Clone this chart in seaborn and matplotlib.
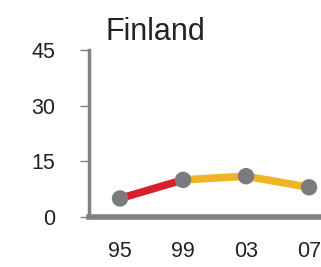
import pandas as pd
import matplotlib
matplotlib.use("Agg")
import matplotlib.pyplot as plt
import seaborn as sns

years = [1995, 1999, 2003, 2007]
values = [5, 10, 11, 8]
tick_labels = ["95", "99", "03", "07"]

# build segments: red 95-99, gold 99-07
rows = []
for i in range(len(years) - 1):
    seg = "early" if i == 0 else "late"
    rows.append({"year": years[i], "value": values[i], "seg": seg, "part": i})
    rows.append({"year": years[i + 1], "value": values[i + 1], "seg": seg, "part": i})
df_lines = pd.DataFrame(rows)
df_pts = pd.DataFrame({"year": years, "value": values})

sns.set_style("white")
plt.rcParams['font.family'] = ['Liberation Sans', 'DejaVu Sans']

fig = plt.figure(figsize=(3.21, 2.67), dpi=100)
ax = fig.add_axes([89 / 321, 50 / 267, 1 - 89 / 321, 167 / 267])

sns.lineplot(data=df_lines, x="year", y="value", hue="seg", units="part", estimator=None,
             palette={"early": "#d8202c", "late": "#f0b527"}, linewidth=5.5,
             legend=False, ax=ax, solid_capstyle="butt")
sns.scatterplot(data=df_pts, x="year", y="value", color="#7b7b7d", s=140,
                edgecolor="none", ax=ax, zorder=5, legend=False)

ax.set_xlim(1993.03, 2007.76)
ax.set_ylim(0, 45)
ax.set_yticks([0, 15, 30, 45])
ax.set_yticklabels(["0", "15", "30", "45"])
ax.set_xticks(years)
ax.set_xticklabels(tick_labels)
ax.set_xlabel("")
ax.set_ylabel("")

for s in ["top", "right"]:
    ax.spines[s].set_visible(False)
ax.spines["left"].set_color("#808080")
ax.spines["left"].set_linewidth(2.5)
ax.spines["bottom"].set_color("#808080")
ax.spines["bottom"].set_linewidth(4)

ax.tick_params(axis="y", length=6.5, width=1, color="#808080", pad=18,
               labelsize=15.5, labelcolor="#222222", left=True)
ax.tick_params(axis="x", length=0, pad=17, labelsize=15.5, labelcolor="#222222")

fig.text(105 / 321, 1 - 40 / 267, "Finland", fontsize=22, color="#222222",
         ha="left", va="baseline")

fig.savefig("out.png", dpi=100)
